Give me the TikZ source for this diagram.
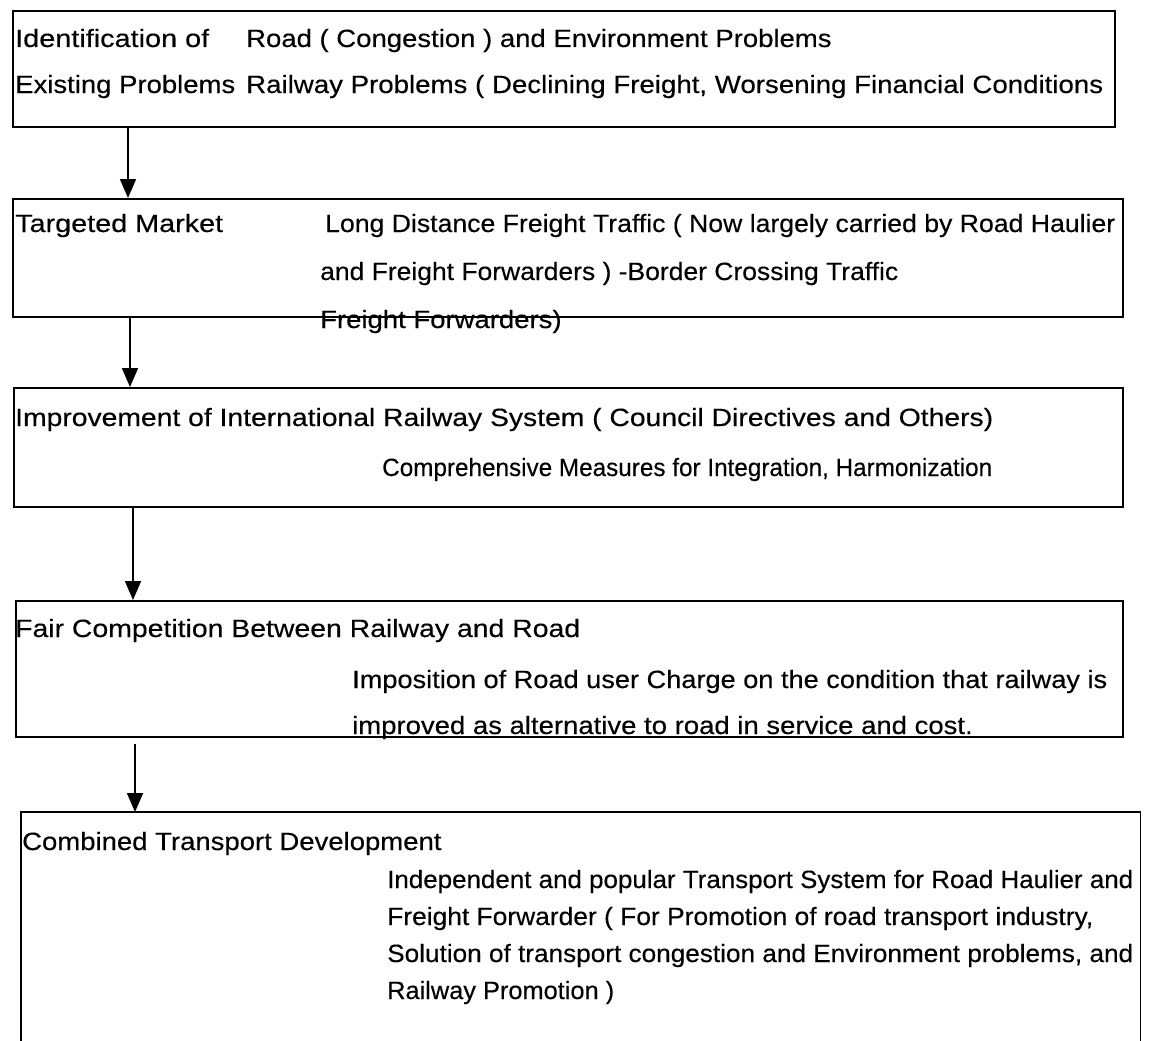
\documentclass[tikz,border=0pt]{standalone}
\usepackage{fontspec}
\usepackage{graphicx}
\setmainfont[FakeStretch=1.1,FakeBold=0.3]{Liberation Sans}
\usetikzlibrary{arrows.meta}
% set a line of text to a given width, keeping its height
\newcommand\fitw[2]{\resizebox{#1}{\height}{#2}}
\begin{document}
\begin{tikzpicture}[x=1pt,y=-1pt,
  frame/.style={draw=black,line width=1.8pt,rectangle,inner sep=0pt,anchor=north west},
  openframe/.style={rectangle,inner sep=0pt,anchor=north west},
  txt/.style={anchor=base west,inner sep=0pt,font=\fontsize{25}{30}\selectfont},
  flow/.style={line width=1.8pt,-{Triangle[width=16pt,length=19pt]}}]
\useasboundingbox[fill=white] (0,0) rectangle (1154,1041);

% boxes
\node[frame,minimum width=1102pt,minimum height=116pt] (b1) at (12,10) {};
\node[frame,minimum width=1110pt,minimum height=118pt] (b2) at (12,198) {};
\node[frame,minimum width=1109pt,minimum height=119pt] (b3) at (13,387) {};
\node[frame,minimum width=1107pt,minimum height=136pt] (b4) at (15,600) {};
\node[openframe,minimum width=1119pt,minimum height=229pt] (b5) at (21,812) {};
\draw[line width=1.8pt] (b5.south west) -- (b5.north west) -- (b5.north east) -- (b5.south east);

% box 1
\node[txt] (t11) at (15,47) {\fitw{194pt}{Identification of}};
\node[txt] (t12) at (15,93) {Existing Problems};
\node[txt] (t13) at (246,47) {Road ( Congestion ) and Environment Problems};
\node[txt] (t14) at (246,93) {\fitw{857pt}{Railway Problems ( Declining Freight, Worsening Financial Conditions}};

% box 2
\node[txt] (t21) at (15,232) {\fitw{208pt}{Targeted Market}};
\node[txt] (t22) at (325,232) {\fitw{790pt}{Long Distance Freight Traffic ( Now largely carried by Road Haulier}};
\node[txt] (t23) at (320,280) {\fitw{578pt}{and Freight Forwarders ) -Border Crossing Traffic}};
\node[txt] (t24) at (320,328) {Freight Forwarders)};

% box 3
\node[txt] (t31) at (15,426) {\fitw{978pt}{Improvement of International Railway System ( Council Directives and Others)}};
\node[txt] (t32) at (382,476) {\fitw{610pt}{Comprehensive Measures for Integration, Harmonization}};

% box 4
\node[txt] (t41) at (15,637) {\fitw{565pt}{Fair Competition Between Railway and Road}};
\node[txt] (t42) at (352,688) {\fitw{755pt}{Imposition of Road user Charge on the condition that railway is}};
\node[txt] (t43) at (352,734) {improved as alternative to road in service and cost.};

% box 5
\node[txt] (t51) at (22,850) {Combined Transport Development};
\node[txt] (t52) at (387,888) {\fitw{746pt}{Independent and popular Transport System for Road Haulier and}};
\node[txt] (t53) at (387,925) {\fitw{706pt}{Freight Forwarder ( For Promotion of road transport industry,}};
\node[txt] (t54) at (387,962) {\fitw{746pt}{Solution of transport congestion and Environment problems, and}};
\node[txt] (t55) at (387,999) {\fitw{227pt}{Railway Promotion )}};

% connectors
\coordinate (x1) at (128,0);
\coordinate (x2) at (130,0);
\coordinate (x3) at (133,0);
\coordinate (x4) at (135,0);
\draw[flow] (x1 |- b1.south) -- (x1 |- b2.north);
\draw[flow] (x2 |- b2.south) -- (x2 |- b3.north);
\draw[flow] (x3 |- b3.south) -- (x3 |- b4.north);
\draw[flow] ([yshift=-6pt]x4 |- b4.south) -- (x4 |- b5.north);
\end{tikzpicture}
\end{document}
